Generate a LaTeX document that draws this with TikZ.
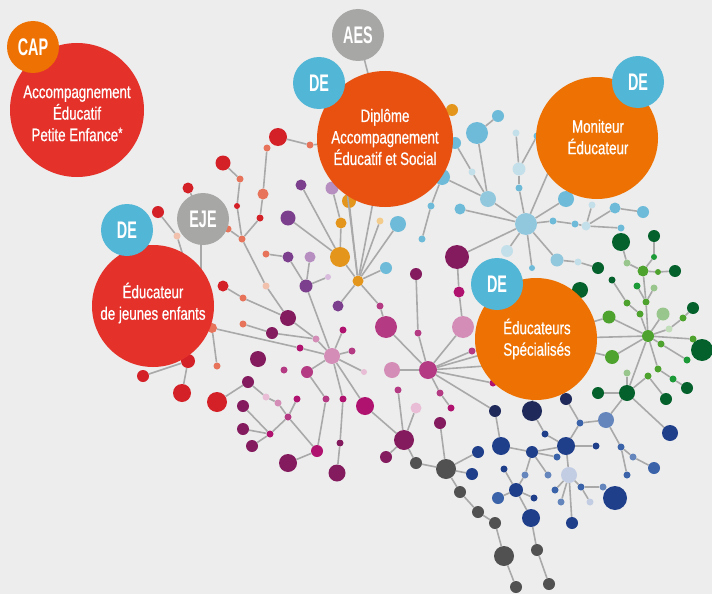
\documentclass[tikz,border=0pt]{standalone}
\usepackage{fontspec}
\setmainfont{Liberation Sans}
\newfontfamily\labelfont[FakeStretch=0.74,FakeBold=0.6]{Liberation Sans}
\newfontfamily\badgefont[FakeStretch=0.6]{Liberation Sans}
\usepackage{tikz}

\definecolor{bgc}{HTML}{EDEDED}
\definecolor{lk}{HTML}{A9A9A9}
\definecolor{cOrange}{HTML}{EE7203}
\definecolor{cDipl}{HTML}{E85110}
\definecolor{cBigRed}{HTML}{E4322B}
\definecolor{cBlueB}{HTML}{52B6D7}
\definecolor{cGrayB}{HTML}{A7A7A6}
\definecolor{cRed}{HTML}{D42027}
\definecolor{cSalm}{HTML}{E6735A}
\definecolor{cPSalm}{HTML}{F2C1AD}
\definecolor{cPurp}{HTML}{7C3F8E}
\definecolor{cLav}{HTML}{B68FC0}
\definecolor{cPLav}{HTML}{D9BCDD}
\definecolor{cGold}{HTML}{E4961C}
\definecolor{cPGold}{HTML}{F3CC8B}
\definecolor{cLb}{HTML}{6DBAD9}
\definecolor{cLb2}{HTML}{92C8DE}
\definecolor{cPb}{HTML}{C3DFEA}
\definecolor{cPlum}{HTML}{841B5F}
\definecolor{cMag}{HTML}{B0126F}
\definecolor{cPMag}{HTML}{B53A84}
\definecolor{cPink}{HTML}{D48DB7}
\definecolor{cPPink}{HTML}{E8BDD5}
\definecolor{cDGreen}{HTML}{05612B}
\definecolor{cGreen}{HTML}{4EA32F}
\definecolor{cLGreen}{HTML}{98C68C}
\definecolor{cBGreen}{HTML}{1D9A38}
\definecolor{cNavy}{HTML}{1F2A5B}
\definecolor{cBlue}{HTML}{203F8B}
\definecolor{cMBlue}{HTML}{3A63A9}
\definecolor{cLMBlue}{HTML}{6486BC}
\definecolor{cPBl}{HTML}{C2CDE3}
\definecolor{cDGray}{HTML}{515151}

\begin{document}
\begin{tikzpicture}[x=1pt, y=-1pt,
    bead/.style 2 args={circle, inner sep=0pt, minimum size=#1pt, fill=#2},
    link/.style={draw=lk, line width=1.6pt},
    disc/.style 2 args={circle, inner sep=0pt, minimum size=#1pt, fill=#2, text=white, align=center,
        font=\labelfont\fontsize{18}{21.5}\selectfont},
    badge/.style={circle, inner sep=0pt, minimum size=52pt, fill=#1, text=white,
        font=\badgefont\bfseries\fontsize{24}{24}\selectfont}]

    \fill[bgc] (0,0) rectangle (712,594);
    \useasboundingbox (0,0) rectangle (712,594);

    % centres of the big discs, and points hidden under them
    \coordinate (cCap) at (77,110);
    \coordinate (cDip) at (385,139);
    \coordinate (cMon) at (597,138);
    \coordinate (cSpe) at (536,339);
    \coordinate (cJeu) at (153,306);
    \coordinate (cAes) at (358,35);
    \coordinate (cEje) at (203,219);
    \coordinate (hDip) at (345,175);
    \coordinate (hMon) at (560,145);
    \coordinate (hSpe) at (500,365);
    \coordinate (hJeu) at (185,262);
    \coordinate (hEje) at (201,240);
    \coordinate (hJeu2) at (201,300);

    % red
    \node[bead={18}{cRed}] (r1) at (278,137) {};
    \node[bead={7}{cSalm}] (s1) at (267,148) {};
    \node[bead={7}{cSalm}] (s2) at (310,145) {};
    \node[bead={15}{cRed}] (r2) at (223,163) {};
    \node[bead={7}{cSalm}] (s3) at (240,179) {};
    \node[bead={6}{cRed}] (r3) at (237,206) {};
    \node[bead={11}{cSalm}] (s4) at (263,194) {};
    \node[bead={7}{cRed}] (r4) at (260,218) {};
    \node[bead={7}{cSalm}] (s5) at (242,239) {};
    \node[bead={11}{cRed}] (r5) at (188,188) {};
    \node[bead={12}{cRed}] (r6) at (158,212) {};
    \node[bead={7}{cPSalm}] (ps1) at (177,236) {};
    \node[bead={7}{cSalm}] (s6) at (228,229) {};
    \node[bead={11}{cRed}] (r7) at (223,286) {};
    \node[bead={7}{cSalm}] (s7) at (243,298) {};
    \node[bead={7}{cPSalm}] (ps2) at (266,286) {};
    \node[bead={7}{cSalm}] (s8) at (243,324) {};
    \node[bead={10}{cSalm}] (s9) at (212,328) {};
    \node[bead={7}{cSalm}] (s10) at (217,366) {};
    \node[bead={12}{cRed}] (r8) at (143,376) {};
    \node[bead={14}{cRed}] (r9) at (188,361) {};
    \node[bead={18}{cRed}] (r10) at (182,393) {};
    \node[bead={20}{cRed}] (r11) at (217,402) {};

    % purple and gold
    \node[bead={11}{cPurp}] (pu1) at (301,185) {};
    \node[bead={13}{cLav}] (la1) at (332,188) {};
    \node[bead={14}{cGold}] (g1) at (349,201) {};
    \node[bead={11}{cGold}] (g2) at (341,223) {};
    \node[bead={15}{cPurp}] (pu2) at (288,218) {};
    \node[bead={20}{cGold}] (g3) at (340,257) {};
    \node[bead={11}{cGold}] (g4) at (358,281) {};
    \node[bead={7}{cPGold}] (pg1) at (380,221) {};
    \node[bead={16}{cLb}] (lb1) at (398,224) {};
    \node[bead={12}{cLb}] (lb2) at (386,268) {};
    \node[bead={7}{cSalm}] (s11) at (266,254) {};
    \node[bead={11}{cPurp}] (pu3) at (288,257) {};
    \node[bead={11}{cLav}] (la2) at (310,257) {};
    \node[bead={13}{cPurp}] (pu4) at (306,286) {};
    \node[bead={6}{cPLav}] (pl0) at (328,277) {};
    \node[bead={11}{cPurp}] (pu5) at (338,306) {};
    \node[bead={7}{cPMag}] (pm1) at (380,306) {};
    \node[bead={22}{cPMag}] (pm2) at (386,327) {};

    % pink and plum
    \node[bead={16}{cPlum}] (pl1) at (288,318) {};
    \node[bead={7}{cPink}] (pk1) at (316,339) {};
    \node[bead={12}{cPlum}] (pl2) at (272,333) {};
    \node[bead={7}{cMag}] (mg1) at (300,348) {};
    \node[bead={16}{cPink}] (hub1) at (332,356) {};
    \node[bead={7}{cMag}] (mg2) at (343,330) {};
    \node[bead={7}{cPMag}] (pm3) at (352,351) {};
    \node[bead={6}{cPPink}] (pp1) at (364,372) {};
    \node[bead={12}{cPMag}] (pm4) at (307,372) {};
    \node[bead={16}{cPlum}] (pl3) at (258,359) {};
    \node[bead={7}{cPMag}] (pm5) at (284,370) {};
    \node[bead={7}{cPMag}] (pm6) at (326,399) {};
    \node[bead={7}{cMag}] (mg3) at (343,399) {};
    \node[bead={7}{cPlum}] (pl4) at (340,443) {};
    \node[bead={17}{cPlum}] (pl5) at (337,473) {};
    \node[bead={18}{cMag}] (mg4) at (365,406) {};
    \node[bead={12}{cPlum}] (pl6) at (248,382) {};
    \node[bead={7}{cPPink}] (pp2) at (266,397) {};
    \node[bead={7}{cPink}] (pk2) at (278,403) {};
    \node[bead={7}{cPMag}] (pm7) at (288,417) {};
    \node[bead={7}{cMag}] (mg5) at (297,399) {};
    \node[bead={7}{cMag}] (mg6) at (270,434) {};
    \node[bead={12}{cPlum}] (pl7) at (243,406) {};
    \node[bead={12}{cPlum}] (pl8) at (243,429) {};
    \node[bead={12}{cPlum}] (pl9) at (252,446) {};
    \node[bead={12}{cMag}] (mg7) at (317,451) {};
    \node[bead={18}{cPlum}] (pl10) at (288,463) {};

    % middle
    \node[bead={12}{cPlum}] (pl11) at (416,274) {};
    \node[bead={7}{cPMag}] (pm8) at (418,333) {};
    \node[bead={24}{cPlum}] (pl12) at (457,257) {};
    \node[bead={11}{cMag}] (mg8) at (459,292) {};
    \node[bead={22}{cPink}] (pk3) at (463,327) {};
    \node[bead={16}{cPink}] (pk4) at (392,370) {};
    \node[bead={18}{cPMag}] (hub2) at (428,370) {};
    \node[bead={7}{cPMag}] (pm9) at (472,351) {};
    \node[bead={7}{cMag}] (mg9) at (493,383) {};
    \node[bead={7}{cPMag}] (pm10) at (440,393) {};
    \node[bead={7}{cMag}] (mg10) at (451,408) {};
    \node[bead={7}{cPMag}] (pm11) at (398,390) {};
    \node[bead={11}{cPPink}] (pp3) at (416,408) {};
    \node[bead={20}{cPlum}] (pl13) at (404,440) {};
    \node[bead={12}{cPlum}] (pl14) at (386,457) {};
    \node[bead={12}{cPlum}] (pl15) at (440,423) {};
    \node[bead={12}{cDGray}] (dg1) at (416,463) {};
    \node[bead={20}{cDGray}] (dg2) at (446,469) {};
    \node[bead={12}{cDGray}] (dg3) at (460,492) {};
    \node[bead={12}{cDGray}] (dg4) at (478,512) {};
    \node[bead={12}{cDGray}] (dg5) at (495,523) {};
    \node[bead={20}{cDGray}] (dg6) at (504,556) {};
    \node[bead={12}{cDGray}] (dg7) at (516,587) {};

    % blue
    \node[bead={12}{cNavy}] (nv1) at (495,411) {};
    \node[bead={18}{cBlue}] (nv2) at (501,446) {};
    \node[bead={12}{cBlue}] (bl1) at (478,452) {};
    \node[bead={12}{cBlue}] (bl2) at (472,474) {};
    \node[bead={12}{cBlue}] (nv3) at (532,452) {};
    \node[bead={20}{cNavy}] (nv4) at (532,411) {};
    \node[bead={7}{cBlue}] (bl3) at (545,434) {};
    \node[bead={18}{cBlue}] (nv5) at (566,446) {};
    \node[bead={7}{cMBlue}] (bl4) at (557,457) {};
    \node[bead={7}{cLMBlue}] (lm1) at (548,475) {};
    \node[bead={7}{cLMBlue}] (mb1) at (525,475) {};
    \node[bead={14}{cBlue}] (nv6) at (516,490) {};
    \node[bead={7}{cBlue}] (bl5) at (504,469) {};
    \node[bead={12}{cMBlue}] (mb2) at (498,498) {};
    \node[bead={7}{cBlue}] (bl6) at (534,498) {};
    \node[bead={18}{cBlue}] (nv7) at (531,518) {};
    \node[bead={12}{cDGray}] (dg8) at (537,550) {};
    \node[bead={12}{cDGray}] (dg9) at (549,584) {};
    \node[bead={7}{cBlue}] (bl7) at (596,446) {};
    \node[bead={12}{cNavy}] (nv8) at (566,399) {};
    \node[bead={7}{cMBlue}] (bl8) at (580,423) {};
    \node[bead={16}{cLMBlue}] (lm2) at (606,420) {};
    \node[bead={16}{cPBl}] (pb1) at (569,475) {};
    \node[bead={7}{cMBlue}] (bl9) at (555,490) {};
    \node[bead={7}{cLMBlue}] (lm3) at (561,502) {};
    \node[bead={7}{cMBlue}] (mb3) at (581,487) {};
    \node[bead={7}{cLMBlue}] (lm4) at (603,487) {};
    \node[bead={7}{cPBl}] (pb2) at (590,502) {};
    \node[bead={12}{cBlue}] (nv9) at (572,523) {};
    \node[bead={7}{cMBlue}] (bl10) at (621,447) {};
    \node[bead={7}{cMBlue}] (bl11) at (627,475) {};
    \node[bead={7}{cLMBlue}] (lm5) at (633,457) {};
    \node[bead={12}{cMBlue}] (mb4) at (654,468) {};
    \node[bead={16}{cBlue}] (bl12) at (670,433) {};
    \node[bead={24}{cBlue}] (bl13) at (615,498) {};

    % green
    \node[bead={16}{cDGreen}] (dgr1) at (627,393) {};
    \node[bead={12}{cDGreen}] (dgr2) at (598,393) {};
    \node[bead={7}{cLGreen}] (lg1) at (627,373) {};
    \node[bead={7}{cGreen}] (gr1) at (648,376) {};
    \node[bead={12}{cDGreen}] (dgr3) at (666,399) {};
    \node[bead={12}{cGreen}] (hub4) at (648,336) {};
    \node[bead={13}{cGreen}] (gr2) at (609,317) {};
    \node[bead={14}{cGreen}] (gr3) at (612,357) {};
    \node[bead={7}{cGreen}] (gr4) at (627,303) {};
    \node[bead={7}{cDGreen}] (dgr4) at (612,280) {};
    \node[bead={7}{cGreen}] (gr5) at (640,314) {};
    \node[bead={7}{cGreen}] (gr6) at (646,302) {};
    \node[bead={13}{cLGreen}] (lg2) at (663,314) {};
    \node[bead={7}{cGreen}] (gr7) at (683,318) {};
    \node[bead={12}{cDGreen}] (dgr5) at (693,308) {};
    \node[bead={7}{cLGreen!60}] (lg3) at (669,329) {};
    \node[bead={7}{cGreen}] (gr8) at (661,344) {};
    \node[bead={7}{cGreen}] (gr9) at (693,339) {};
    \node[bead={22}{cDGreen}] (dgr6) at (702,350) {};
    \node[bead={7}{cBGreen}] (bg1) at (687,360) {};
    \node[bead={7}{cGreen}] (gr10) at (658,369) {};
    \node[bead={7}{cBGreen}] (bg2) at (673,379) {};
    \node[bead={12}{cDGreen}] (dgr7) at (687,388) {};
    \node[bead={18}{cDGreen}] (dgr8) at (621,242) {};
    \node[bead={7}{cLGreen}] (lg4) at (627,263) {};
    \node[bead={11}{cGreen}] (gr11) at (643,271) {};
    \node[bead={6}{cBGreen}] (gr12) at (654,257) {};
    \node[bead={12}{cDGreen}] (dgr9) at (654,236) {};
    \node[bead={6}{cGreen}] (gr13) at (658,272) {};
    \node[bead={12}{cDGreen}] (dgr10) at (675,271) {};
    \node[bead={7}{cBGreen}] (bg3) at (637,286) {};
    \node[bead={7}{cLGreen}] (lg5) at (654,288) {};
    \node[bead={16}{cDGreen}] (dgr11) at (580,290) {};
    \node[bead={12}{cDGreen}] (dgr12) at (598,268) {};

    % light blue
    \node[bead={12}{cGold}] (g5) at (452,110) {};
    \node[bead={22}{cLb}] (lb3) at (477,133) {};
    \node[bead={12}{cLb}] (lb4) at (498,116) {};
    \node[bead={12}{cLb}] (lb5) at (455,143) {};
    \node[bead={16}{cLb}] (lb6) at (442,177) {};
    \node[bead={7}{cPb}] (pb3) at (472,172) {};
    \node[bead={16}{cLb2}] (lb7) at (488,199) {};
    \node[bead={22}{cLb2}] (hub3) at (526,224) {};
    \node[bead={11}{cLb}] (lb8) at (460,209) {};
    \node[bead={7}{cLb}] (lb9) at (431,206) {};
    \node[bead={7}{cLb}] (lb10) at (422,239) {};
    \node[bead={7}{cPb}] (pb4) at (516,133) {};
    \node[bead={13}{cPb}] (pb5) at (519,169) {};
    \node[bead={7}{cLb}] (lb11) at (519,188) {};
    \node[bead={7}{cLb}] (lb12) at (537,136) {};
    \node[bead={16}{cLb}] (lb13) at (566,199) {};
    \node[bead={13}{cLb2}] (lb14) at (557,260) {};
    \node[bead={12}{cPb}] (pb6) at (507,251) {};
    \node[bead={6}{cLb}] (lb15) at (532,268) {};
    \node[bead={7}{cLb}] (lb16) at (553,221) {};
    \node[bead={7}{cLb}] (lb17) at (575,224) {};
    \node[bead={9}{cPb}] (pb7) at (586,226) {};
    \node[bead={7}{cLb}] (lb18) at (621,228) {};
    \node[bead={7}{cPb}] (pb8) at (592,205) {};
    \node[bead={11}{cLb}] (lb19) at (615,208) {};
    \node[bead={12}{cLb}] (lb20) at (643,212) {};
    \node[bead={7}{cPb}] (pb9) at (578,262) {};

    \draw[link] (r1) to (s2);
    \draw[link] (s2) to (cDip);
    \draw[link] (r2) to (s3);
    \draw[link] (s3) to (r3);
    \draw[link] (r3) to (s5);
    \draw[link] (s1) to (s4);
    \draw[link] (s4) to (r4);
    \draw[link] (r4) to (s5);
    \draw[link] (s6) to (s5);
    \draw[link] (s5) to (ps2);
    \draw[link] (ps2) to (pl1);
    \draw[link] (r6) to (ps1);
    \draw[link] (ps1) to (hJeu);
    \draw[link] (r5) to (cEje);
    \draw[link] (hEje) to (hJeu2);
    \draw[link] (cAes) to (cDip);
    \draw[link] (r7) to (s7);
    \draw[link] (s7) to (pl1);
    \draw[link] (s8) to (pl2);
    \draw[link] (pl2) to (pk1);
    \draw[link] (pl1) to (pk1);
    \draw[link] (pk1) to (hub1);
    \draw[link] (s9) to (mg1);
    \draw[link] (mg1) to (hub1);
    \draw[link] (s9) to (s10);
    \draw[link] (s9) to (cJeu);
    \draw[link] (r9) to (r8);
    \draw[link] (r9) to (r10);
    \draw[link] (r9) to (cJeu);

    \draw[link] (r11) to (pl6);
    \draw[link] (pl6) to (pp2);
    \draw[link] (pp2) to (pk2);
    \draw[link] (pk2) to (pm7);
    \draw[link] (pm7) to (mg5);
    \draw[link] (pm7) to (mg6);
    \draw[link] (mg6) to (pl7);
    \draw[link] (mg6) to (pl8);
    \draw[link] (mg6) to (pl9);
    \draw[link] (pm7) to (mg7);
    \draw[link] (mg7) to (pl10);
    \draw[link] (hub1) to (pm4);
    \draw[link] (pm4) to (pm6);
    \draw[link] (pm6) to (mg7);
    \draw[link] (hub1) to (mg3);
    \draw[link] (mg3) to (pl4);
    \draw[link] (pl4) to (pl5);
    \draw[link] (hub1) to (mg4);
    \draw[link] (mg4) to (pl13);
    \draw[link] (hub1) to (pm3);
    \draw[link] (hub1) to (pp1);
    \draw[link] (hub1) to (mg2);
    \draw[link] (pu4) to (hub1);

    \draw[link] (pu1) to (g3);
    \draw[link] (pu2) to (g3);
    \draw[link] (la1) to (g2);
    \draw[link] (g2) to (g3);
    \draw[link] (g3) to (g4);
    \draw[link] (g1) to (g4);
    \draw[link] (pg1) to (g4);
    \draw[link] (lb1) to (g4);
    \draw[link] (lb2) to (g4);
    \draw[link] (g4) to (cDip);
    \draw[link] (g4) to (hDip);
    \draw[link] (s11) to (pu3);
    \draw[link] (pu3) to (pu4);
    \draw[link] (la2) to (pu4);
    \draw[link] (pu4) to (pl0);
    \draw[link] (pu5) to (g4);
    \draw[link] (g4) to (pm1);
    \draw[link] (pm1) to (pm2);
    \draw[link] (pm2) to (hub2);

    \draw[link] (pl11) to (pm8);
    \draw[link] (pm8) to (hub2);
    \draw[link] (pl12) to (mg8);
    \draw[link] (mg8) to (pk3);
    \draw[link] (pk3) to (hub2);
    \draw[link] (pk4) to (hub2);
    \draw[link] (hub2) to (pm9);
    \draw[link] (hub2) to (mg9);
    \draw[link] (hub2) to (nv1);
    \draw[link] (hub2) to (pm10);
    \draw[link] (pm10) to (mg10);
    \draw[link] (hub2) to (cSpe);
    \draw[link] (hub2) to (hSpe);
    \draw[link] (pm11) to (pl13);
    \draw[link] (pp3) to (pl13);
    \draw[link] (pl14) to (pl13);
    \draw[link] (pl13) to (dg1);
    \draw[link] (dg1) to (dg2);
    \draw[link] (pl15) to (dg2);
    \draw[link] (dg2) to (bl1);
    \draw[link] (dg2) to (bl2);
    \draw[link] (dg2) to (dg3);
    \draw[link] (dg3) to (dg4);
    \draw[link] (dg4) to (dg5);
    \draw[link] (dg5) to (dg6);
    \draw[link] (dg6) to (dg7);

    \draw[link] (nv1) to (nv2);
    \draw[link] (nv2) to (nv3);
    \draw[link] (nv4) to (bl3);
    \draw[link] (bl3) to (nv5);
    \draw[link] (nv4) to (cSpe);
    \draw[link] (nv3) to (nv5);
    \draw[link] (nv3) to (bl4);
    \draw[link] (nv3) to (lm1);
    \draw[link] (nv3) to (mb1);
    \draw[link] (mb1) to (nv6);
    \draw[link] (nv6) to (bl5);
    \draw[link] (nv6) to (mb2);
    \draw[link] (nv6) to (bl6);
    \draw[link] (nv6) to (nv7);
    \draw[link] (nv7) to (dg8);
    \draw[link] (dg8) to (dg9);
    \draw[link] (nv5) to (bl7);
    \draw[link] (nv8) to (bl8);
    \draw[link] (bl8) to (nv5);
    \draw[link] (bl8) to (lm2);
    \draw[link] (nv5) to (pb1);
    \draw[link] (pb1) to (bl9);
    \draw[link] (pb1) to (lm3);
    \draw[link] (pb1) to (mb3);
    \draw[link] (mb3) to (lm4);
    \draw[link] (mb3) to (pb2);
    \draw[link] (pb1) to (nv9);
    \draw[link] (lm2) to (dgr1);
    \draw[link] (dgr1) to (dgr2);
    \draw[link] (lm2) to (bl10);
    \draw[link] (bl10) to (bl11);
    \draw[link] (bl10) to (lm5);
    \draw[link] (lm5) to (mb4);
    \draw[link] (dgr1) to (bl12);

    \draw[link] (dgr1) to (lg1);
    \draw[link] (dgr1) to (gr1);
    \draw[link] (gr1) to (dgr3);
    \draw[link] (dgr1) to (hub4);
    \draw[link] (hub4) to (gr2);
    \draw[link] (hub4) to (gr3);
    \draw[link] (gr2) to (cSpe);
    \draw[link] (gr3) to (cSpe);
    \draw[link] (hub4) to (gr5);
    \draw[link] (gr5) to (gr4);
    \draw[link] (gr4) to (dgr4);
    \draw[link] (hub4) to (gr6);
    \draw[link] (hub4) to (lg2);
    \draw[link] (hub4) to (lg3);
    \draw[link] (lg3) to (gr7);
    \draw[link] (gr7) to (dgr5);
    \draw[link] (hub4) to (gr9);
    \draw[link] (hub4) to (gr8);
    \draw[link] (gr8) to (bg1);
    \draw[link] (hub4) to (gr10);
    \draw[link] (gr10) to (bg2);
    \draw[link] (bg2) to (dgr7);
    \draw[link] (hub4) to (cSpe);
    \draw[link] (gr6) to (gr11);
    \draw[link] (bg3) to (gr6);
    \draw[link] (lg5) to (gr6);
    \draw[link] (gr11) to (lg4);
    \draw[link] (lg4) to (dgr8);
    \draw[link] (gr11) to (gr12);
    \draw[link] (gr12) to (dgr9);
    \draw[link] (gr11) to (gr13);
    \draw[link] (gr13) to (dgr10);
    \draw[link] (dgr12) to (pb9);
    \draw[link] (pb9) to (lb14);
    \draw[link] (lb14) to (hub3);
    \draw[link] (dgr11) to (cSpe);

    \draw[link] (lb3) to (lb4);
    \draw[link] (lb3) to (lb7);
    \draw[link] (lb5) to (pb3);
    \draw[link] (pb3) to (lb7);
    \draw[link] (lb6) to (lb7);
    \draw[link] (lb7) to (hub3);
    \draw[link] (lb8) to (hub3);
    \draw[link] (lb10) to (lb9);
    \draw[link] (lb9) to (lb6);
    \draw[link] (pb4) to (pb5);
    \draw[link] (lb12) to (pb5);
    \draw[link] (pb5) to (lb11);
    \draw[link] (lb11) to (hub3);
    \draw[link] (lb13) to (hub3);
    \draw[link] (pb6) to (hub3);
    \draw[link] (lb15) to (hub3);
    \draw[link] (hub3) to (lb16);
    \draw[link] (lb16) to (lb17);
    \draw[link] (lb17) to (pb7);
    \draw[link] (pb7) to (lb18);
    \draw[link] (pb7) to (pb8);
    \draw[link] (pb7) to (lb19);
    \draw[link] (lb19) to (lb20);
    \draw[link] (pl12) to (hub3);
    \draw[link] (hub3) to (hMon);
    \draw[link] (lb5) to (cDip);
    \draw[link] (lb6) to (cDip);

    % big discs
    \node[disc={134}{cBigRed}] (cap) at (cCap) {};
    \node[disc={136}{cDipl}] (dip) at (cDip) {};
    \node[disc={122}{cOrange}] (mon) at (cMon) {};
    \node[disc={122}{cOrange}] (spe) at (cSpe) {};
    \node[disc={122}{cBigRed}] (jeu) at (cJeu) {};

    \node[disc={1}{none}] at (77,113.5) {Accompagnement\\Éducatif\\Petite Enfance{\fontsize{15}{15}\selectfont\raisebox{3pt}{*}}};
    \node[disc={1}{none}] at (385,137) {Diplôme\\Accompagnement\\Éducatif et Social};
    \node[disc={1}{none}] at (598,137) {Moniteur\\Éducateur};
    \node[disc={1}{none}] at (537,339) {Éducateurs\\Spécialisés};
    \node[disc={1}{none}] at (153,303) {Éducateur\\de jeunes enfants};

    % badges
    \node[badge=cOrange] (bcap) at (33,47) {CAP};
    \node[badge=cGrayB] (baes) at (cAes) {AES};
    \node[badge=cBlueB] (bde1) at (319,83) {DE};
    \node[badge=cBlueB] (bde2) at (638,82) {DE};
    \node[badge=cBlueB] (bde3) at (497,284) {DE};
    \node[badge=cBlueB] (bde4) at (127,230) {DE};
    \node[badge=cGrayB] (beje) at (cEje) {EJE};

\end{tikzpicture}
\end{document}
